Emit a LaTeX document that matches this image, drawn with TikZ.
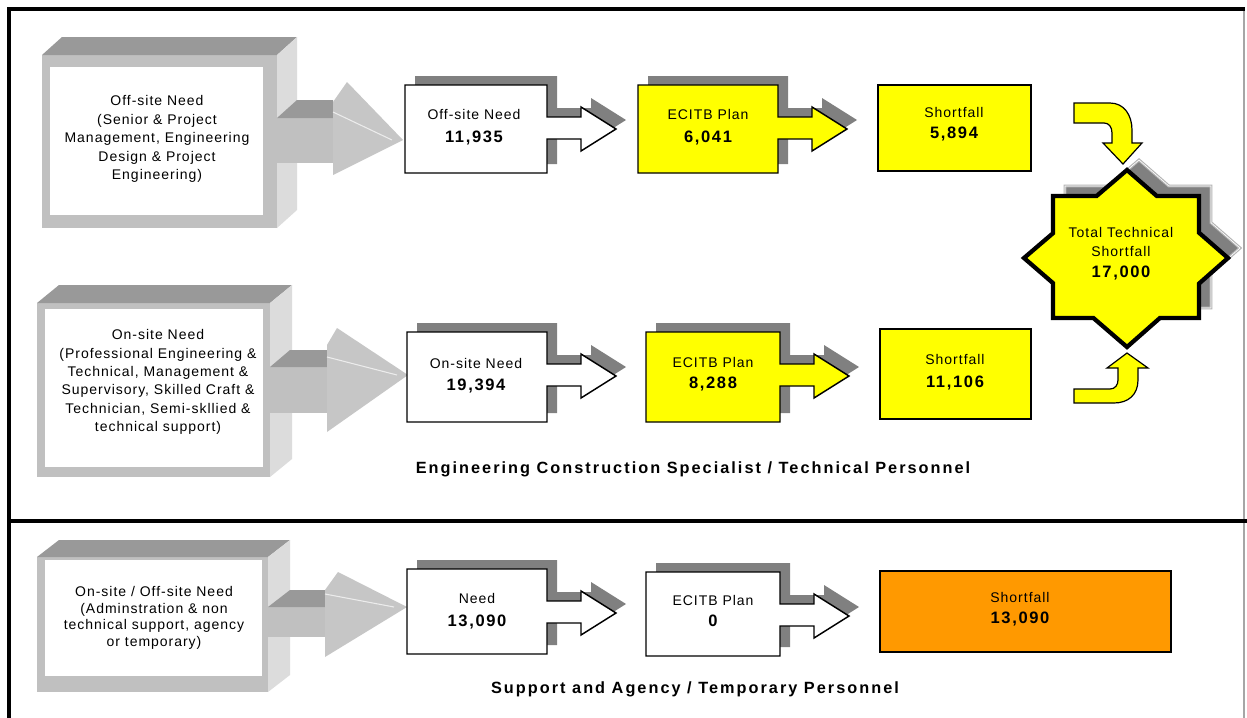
\documentclass[tikz,border=0pt]{standalone}
\usepackage{fontspec}
\setmainfont{Liberation Sans}
\newfontfamily\labfont[LetterSpace=7]{Liberation Sans}
\newfontfamily\numfont[LetterSpace=10]{Liberation Sans}
\newfontfamily\headfont[LetterSpace=12.5]{Liberation Sans}
\definecolor{frontgray}{HTML}{C0C0C0}
\definecolor{topgray}{HTML}{999999}
\definecolor{sidegray}{HTML}{DCDCDC}
\definecolor{headgray}{HTML}{C6C6C6}
\definecolor{shadowgray}{HTML}{808080}
\definecolor{boxyellow}{HTML}{FFFF00}
\definecolor{boxorange}{HTML}{FF9900}
\tikzset{
 lab/.style={font=\labfont\fontsize{10.5pt}{13.5pt}\selectfont, text height=7.5pt, text depth=0pt, inner sep=0pt},
 num/.style={font=\numfont\bfseries\fontsize{12.4pt}{14pt}\selectfont, text height=8.9pt, text depth=0pt, inner sep=0pt},
 cubetext/.style={align=center, inner sep=0pt},
 headtext/.style={font=\headfont\bfseries\fontsize{12.2pt}{14pt}\selectfont, text height=8.7pt, text depth=0pt, inner sep=0pt},
 flowline/.style={draw=black, line width=1.1pt, line join=miter},
 frameline/.style={draw=black, line width=2.4pt},
}
\newcommand\flowbox[5]{%
 \fill[shadowgray, xshift=7.5pt, yshift=6.75pt] (#1,#2) -- (#3,#2) -- (#3,{#2+32}) -- ({#3+34},{#2+32}) -- ({#3+34},{#2+22}) -- ({#3+69},{#2+44}) -- ({#3+34},{#2+66}) -- ({#3+34},{#2+54}) -- (#3,{#2+54}) -- (#3,#4) -- (#1,#4) -- cycle;
 \draw[flowline, fill=#5] (#1,#2) -- (#3,#2) -- (#3,{#2+32}) -- ({#3+34},{#2+32}) -- ({#3+34},{#2+22}) -- ({#3+69},{#2+44}) -- ({#3+34},{#2+66}) -- ({#3+34},{#2+54}) -- (#3,{#2+54}) -- (#3,#4) -- (#1,#4) -- cycle;
}
\begin{document}
\begin{tikzpicture}[x=0.75pt,y=-0.75pt]
\useasboundingbox (0,0) rectangle (1247,718);
\fill[white] (0,0) rectangle (1247,718);
% frame
\draw[shadowgray!70, line width=0.8pt] (1244,9) -- (1244,718);
\draw[frameline] (9,718) -- (9,9) -- (1245,9);
\draw[frameline] (9,521) -- (1247,521);

% ---------- Row 1 cube ----------
\fill[frontgray] (42,55) rectangle (277,228);
\fill[topgray] (42,55) -- (62,37) -- (297,37) -- (277,55) -- cycle;
\fill[sidegray] (277,55) -- (297,37) -- (297,210) -- (277,228) -- cycle;
\fill[white] (50,67) rectangle (263,215);
\fill[frontgray] (277,118) rectangle (333,163);
\fill[topgray] (277,118) -- (297,100) -- (333,100) -- (333,118) -- cycle;
\fill[headgray] (333,102) -- (347,82) -- (403,140) -- (333,175) -- cycle;
\draw[white!85!gray, line width=0.8pt] (333,112) -- (392,140);
\node[cubetext, font=\labfont\fontsize{10.5pt}{13.9pt}\selectfont] (c1) at (157,139) {Off-site Need\\(Senior \& Project\\Management, Engineering\\Design \& Project\\Engineering)};

% ---------- Row 2 cube ----------
\fill[frontgray] (37,303) rectangle (270,477);
\fill[topgray] (37,303) -- (59,285) -- (292,285) -- (270,303) -- cycle;
\fill[sidegray] (270,303) -- (292,285) -- (292,459) -- (270,477) -- cycle;
\fill[white] (45,309) rectangle (263,467);
\fill[frontgray] (270,367) rectangle (327,413);
\fill[topgray] (270,367) -- (290,350) -- (327,350) -- (327,367) -- cycle;
\fill[headgray] (327,345) -- (337,328) -- (408,375) -- (327,432) -- cycle;
\draw[white!85!gray, line width=0.8pt] (327,357) -- (397,375);
\node[cubetext, font=\labfont\fontsize{10.5pt}{13.8pt}\selectfont] (c2) at (158,382) {On-site Need\\(Professional Engineering \&\\Technical, Management \&\\Supervisory, Skilled Craft \&\\Technician, Semi-skllied \&\\technical support)};

% ---------- Row 3 cube ----------
\fill[frontgray] (37,557) rectangle (268,692);
\fill[topgray] (37,557) -- (59,540) -- (290,540) -- (268,557) -- cycle;
\fill[sidegray] (268,557) -- (290,540) -- (290,675) -- (268,692) -- cycle;
\fill[white] (45,560) rectangle (262,676);
\fill[frontgray] (268,607) rectangle (325,637);
\fill[topgray] (268,607) -- (290,590) -- (325,590) -- (325,607) -- cycle;
\fill[headgray] (325,590) -- (338,572) -- (407,607) -- (325,657) -- cycle;
\draw[white!85!gray, line width=0.8pt] (325,594) -- (394,607);
\node[cubetext, font=\labfont\fontsize{10.5pt}{12.5pt}\selectfont] (c3) at (154,618) {On-site / Off-site Need\\(Adminstration \& non\\technical support, agency\\or temporary)};

% ---------- Flow boxes ----------
\flowbox{405}{85}{547}{173}{white}
\flowbox{638}{85}{778}{173}{boxyellow}
\flowbox{407}{332}{547}{422}{white}
\flowbox{646}{332}{780}{422}{boxyellow}
\flowbox{407}{569}{547}{654}{white}
\flowbox{646}{572}{780}{656}{white}

\node[lab] (l1a) at (474,114) {Off-site Need};
\node[num] (n1a) at (474,137) {11,935};
\node[lab] (l1b) at (708,114) {ECITB Plan};
\node[num] (n1b) at (708,137) {6,041};
\node[lab] (l2a) at (476,363) {On-site Need};
\node[num] (n2a) at (476,385) {19,394};
\node[lab] (l2b) at (713,362) {ECITB Plan};
\node[num] (n2b) at (713,383) {8,288};
\node[lab] (l3a) at (477,598) {Need};
\node[num] (n3a) at (477,621) {13,090};
\node[lab] (l3b) at (713,600) {ECITB Plan};
\node[num] (n3b) at (713,621) {0};

% ---------- Shortfall boxes ----------
\draw[flowline, fill=boxyellow] (878,85) rectangle (1031,171);
\node[lab] (s1l) at (954,112) {Shortfall};
\node[num] (s1n) at (954,133) {5,894};
\draw[flowline, fill=boxyellow] (880,329) rectangle (1031,419);
\node[lab] (s2l) at (955,359) {Shortfall};
\node[num] (s2n) at (955,382) {11,106};
\draw[flowline, fill=boxorange] (880,571) rectangle (1171,652);
\node[lab] (s3l) at (1020,597) {Shortfall};
\node[num] (s3n) at (1020,618) {13,090};

% ---------- Star ----------
\begin{scope}[xshift=9pt, yshift=7.5pt]
\draw[fill=shadowgray, draw=shadowgray!60, line width=2.2pt, line join=miter] (1127,170) -- (1156.8,196) -- (1199,196) -- (1199,232.7) -- (1228,258) -- (1199,283.6) -- (1199,318) -- (1159.9,318) -- (1127,347) -- (1093.4,318) -- (1053,318) -- (1053,283.1) -- (1024,258) -- (1053,233.2) -- (1053,196) -- (1096.6,196) -- cycle;
\draw[white, line width=0.5pt, line join=miter] (1127,170) -- (1156.8,196) -- (1199,196) -- (1199,232.7) -- (1228,258) -- (1199,283.6) -- (1199,318) -- (1159.9,318) -- (1127,347) -- (1093.4,318) -- (1053,318) -- (1053,283.1) -- (1024,258) -- (1053,233.2) -- (1053,196) -- (1096.6,196) -- cycle;
\end{scope}
\draw[fill=boxyellow, draw=black, line width=3.2pt, line join=miter] (1127,170) -- (1156.8,196) -- (1199,196) -- (1199,232.7) -- (1228,258) -- (1199,283.6) -- (1199,318) -- (1159.9,318) -- (1127,347) -- (1093.4,318) -- (1053,318) -- (1053,283.1) -- (1024,258) -- (1053,233.2) -- (1053,196) -- (1096.6,196) -- cycle;
\node[lab] (t1) at (1121,232) {Total Technical};
\node[lab] (t2) at (1121,251) {Shortfall};
\node[num] (t3) at (1121,272) {17,000};

% ---------- Curved arrows ----------
\draw[flowline, line width=0.9pt, fill=boxyellow] (1074,103) -- (1110,103) .. controls (1124,103) and (1132,115) .. (1132,130) -- (1132,143) -- (1142,143) -- (1123,164) -- (1103,143) -- (1112,143) -- (1112,133) .. controls (1112,127) and (1109,123) .. (1104,123) -- (1074,123) -- cycle;
\draw[flowline, line width=0.9pt, fill=boxyellow] (1074,389) -- (1110,389) .. controls (1115,389) and (1118,385) .. (1118,380) -- (1118,368) -- (1107,368) -- (1127,353) -- (1148,368) -- (1138,368) -- (1138,380) .. controls (1138,395) and (1128,403) .. (1114,403) -- (1074,403) -- cycle;

% ---------- Section headings ----------
\node[headtext] (h1) at (693,468) {Engineering Construction Specialist / Technical Personnel};
\node[headtext] (h2) at (695,688) {Support and Agency / Temporary Personnel};
\end{tikzpicture}
\end{document}
